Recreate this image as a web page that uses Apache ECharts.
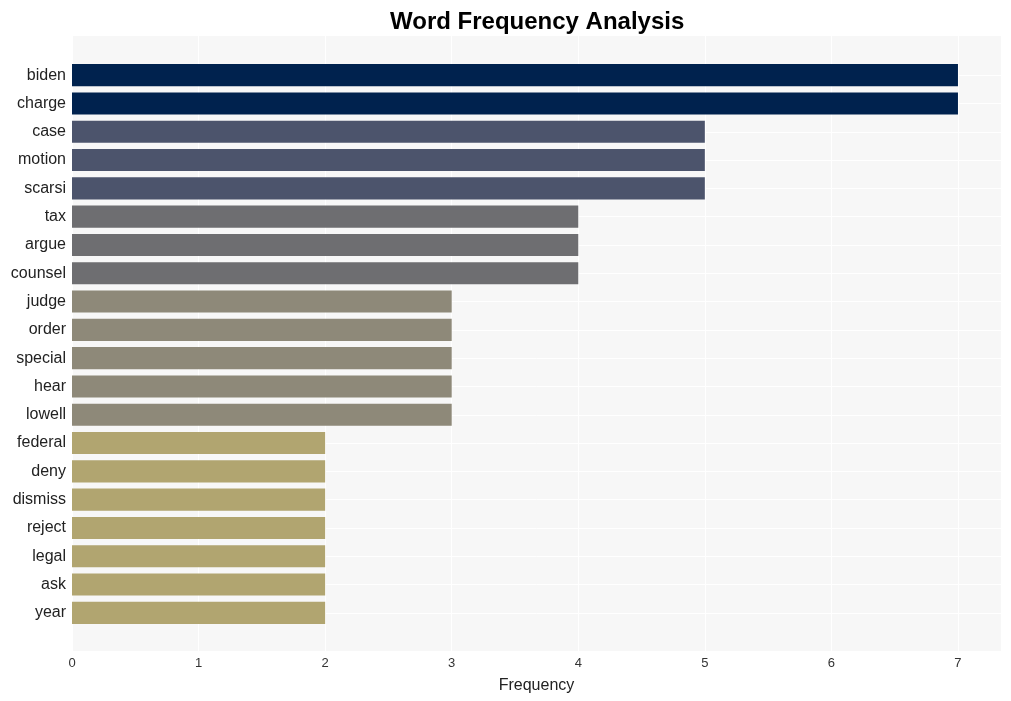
<!DOCTYPE html>
<html>
<head>
<meta charset="utf-8">
<script src="https://cdn.jsdelivr.net/npm/echarts@6/dist/echarts.min.js"></script>
<style>html,body{margin:0;padding:0;background:#fff}#c{width:1011px;height:701px}</style>
</head>
<body>
<div id="c"></div>
<script>
const words = ["biden","charge","case","motion","scarsi","tax","argue","counsel","judge","order","special","hear","lowell","federal","deny","dismiss","reject","legal","ask","year"];
const counts = [7,7,5,5,5,4,4,4,3,3,3,3,3,2,2,2,2,2,2,2];
const xTicks = [0,1,2,3,4,5,6,7];
const colorByCount = {7:"#00224e",5:"#4c546c",4:"#6e6e71",3:"#8e8979",2:"#b1a570"};

const chart = echarts.init(document.getElementById('c'), null, {renderer:'canvas'});
const font = 'Liberation Sans, Arial, sans-serif';
chart.setOption({
  backgroundColor:'#ffffff',
  animation:false,
  title:{text:'Word Frequency Analysis',left:385,top:5,textStyle:{fontFamily:font,fontWeight:'bold',fontSize:24,color:'#000'}},
  grid:[
    {left:72,right:10,top:36,bottom:50,show:true,backgroundColor:'#f7f7f7',borderWidth:0,containLabel:false},
    {left:72,right:10,top:61,height:566,containLabel:false}
  ],
  xAxis:[
    {gridIndex:0,type:'value',min:0,max:7.34,interval:1,
     axisLine:{show:false},axisTick:{show:false},
     axisLabel:{fontFamily:font,fontSize:13,color:'#333',margin:6,
       formatter:v=> xTicks.includes(v)? String(v):''},
     splitLine:{show:true,lineStyle:{color:'#ffffff',width:1}},
     name:'Frequency',nameLocation:'middle',nameGap:27,
     nameTextStyle:{fontFamily:font,fontSize:16,color:'#222'}},
    {gridIndex:1,type:'value',min:0,max:7.34,show:false,splitLine:{show:false}}
  ],
  yAxis:[
    {gridIndex:0,type:'value',min:0,max:1,show:false,splitLine:{show:false}},
    {gridIndex:1,type:'category',data:words,inverse:true,
     axisLine:{show:false},axisTick:{show:false,alignWithLabel:true},
     axisLabel:{fontFamily:font,fontSize:16,color:'#222',margin:6,padding:[3,0,0,0]},
     splitLine:{show:true,alignWithLabel:true,lineStyle:{color:'#ffffff',width:1}}}
  ],
  series:[{
    type:'bar',xAxisIndex:1,yAxisIndex:1,
    barCategoryGap:'22%',
    data:counts.map(v=>({value:v,itemStyle:{color:colorByCount[v]}}))
  }]
});
</script>
</body>
</html>
